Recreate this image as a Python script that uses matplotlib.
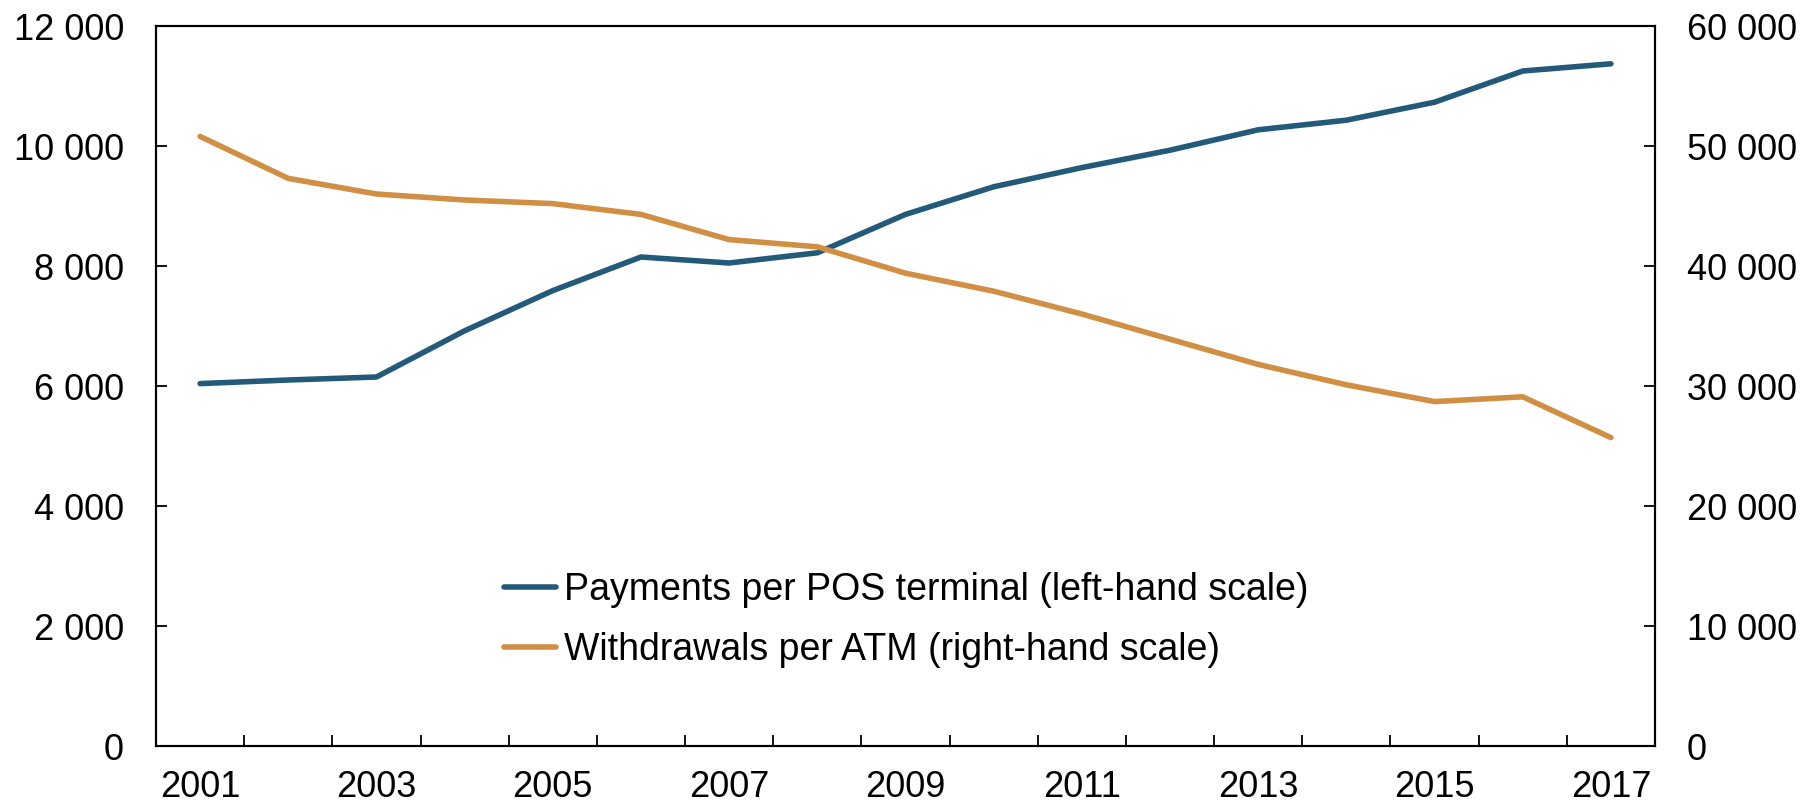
import matplotlib
matplotlib.use("Agg")
import matplotlib.pyplot as plt
import numpy as np

years = list(range(2001, 2018))
pos_payments = [6040, 6100, 6150, 6920, 7590, 8150, 8050, 8220, 8860, 9320,
                9640, 9930, 10270, 10430, 10730, 11250, 11370]
atm_withdrawals = [50800, 47300, 46000, 45500, 45200, 44300, 42200, 41600, 39400,
                   37900, 36000, 33900, 31800, 30100, 28700, 29100, 25700]
labels = ["Payments per POS terminal (left-hand scale)",
          "Withdrawals per ATM (right-hand scale)"]
left_ticks = [0, 2000, 4000, 6000, 8000, 10000, 12000]
right_ticks = [0, 10000, 20000, 30000, 40000, 50000, 60000]

blue = "#235a7a"
orange = "#d18f44"

plt.rcParams['font.family'] = ['Liberation Sans', 'DejaVu Sans']

fig = plt.figure(figsize=(18.06, 8.08), dpi=100)
ax = fig.add_axes([156/1806, 1-746/808, (1655-156)/1806, (746-26)/808])
ax2 = ax.twinx()

x = np.arange(len(years))
l1, = ax.plot(x, pos_payments, color=blue, lw=4, solid_capstyle='round')
l2, = ax2.plot(x, atm_withdrawals, color=orange, lw=4, solid_capstyle='round')

ax.set_xlim(-0.5, len(years) - 0.5)
ax.set_ylim(0, 12000)
ax2.set_ylim(0, 60000)

fmt = lambda v: f"{v:,}".replace(",", " ")
ax.set_yticks(left_ticks, [fmt(v) for v in left_ticks])
ax2.set_yticks(right_ticks, [fmt(v) for v in right_ticks])

major = [i for i, y in enumerate(years) if (y - 2001) % 2 == 0]
ax.set_xticks(major, [str(years[i]) for i in major])
ax.set_xticks(np.arange(0.5, len(years) - 0.5, 1.0), minor=True)

ax.tick_params(axis='x', which='major', length=0, pad=17, labelsize=26)
ax.tick_params(axis='x', which='minor', direction='in', length=8, width=1.3)
ax.tick_params(axis='y', direction='in', length=8, width=1.3, pad=23, labelsize=26)
ax2.tick_params(axis='y', direction='in', length=8, width=1.3, pad=23, labelsize=26)

for a in (ax, ax2):
    for s in a.spines.values():
        s.set_linewidth(1.5)

ax.legend([l1, l2], labels, loc='center left', bbox_to_anchor=(0.232, 0.175),
          frameon=False, fontsize=27, handlelength=1.4, handletextpad=0.2,
          labelspacing=0.65, borderpad=0, borderaxespad=0)

fig.savefig("out.png", dpi=100)
